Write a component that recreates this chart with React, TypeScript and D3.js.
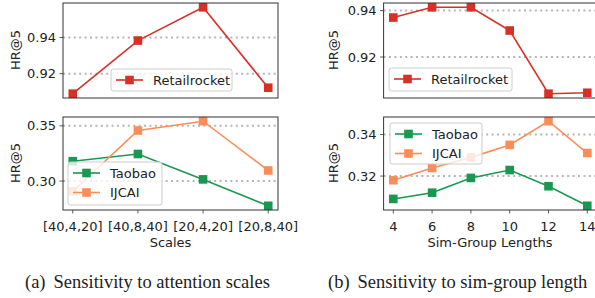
import React from "react";
import * as d3 from "d3";

// (a) attention scales
const scales = ["[40,4,20]", "[40,8,40]", "[20,4,20]", "[20,8,40]"];
const scaleRetail = [0.9089, 0.9383, 0.9567, 0.9122];
const scaleTaobao = [0.318, 0.3245, 0.3015, 0.2776];
const scaleIjcai = [0.2907, 0.3458, 0.3542, 0.3096];

// (b) sim-group lengths
const lengths = [4, 6, 8, 10, 12, 14];
const lenRetail = [0.937, 0.9414, 0.9414, 0.9314, 0.9042, 0.9046];
const lenTaobao = [0.309, 0.312, 0.3191, 0.3229, 0.3151, 0.3057];
const lenIjcai = [0.318, 0.3239, 0.329, 0.335, 0.3464, 0.3311];

const ticksATop = [0.92, 0.94];
const ticksABot = [0.3, 0.35];
const ticksBTop = [0.92, 0.94];
const ticksBBot = [0.32, 0.34];

const RED = "#d73027";
const GREEN = "#1a9850";
const ORANGE = "#fc8d59";
const FONT = "DejaVu Sans, sans-serif";
const FS = 13;

type Series = { name: string; color: string; values: number[] };

function padDomain(vals: number[]): [number, number] {
  const lo = d3.min(vals)!;
  const hi = d3.max(vals)!;
  const m = (hi - lo) * 0.05;
  return [lo - m, hi + m];
}

function Panel(props: {
  box: { x0: number; x1: number; y0: number; y1: number };
  xs: (string | number)[];
  series: Series[];
  yTicks: number[];
  fmt: string;
  showX: boolean;
  legend: { x: number; y: number; w: number; h: number };
}) {
  const { box, xs, series, yTicks, fmt, showX, legend } = props;
  const n = xs.length;
  const x = d3.scaleLinear().domain([-0.05 * (n - 1), (n - 1) * 1.05]).range([box.x0, box.x1]);
  const y = d3.scaleLinear().domain(padDomain(series.flatMap((s) => s.values))).range([box.y1, box.y0]);
  const line = d3.line<number>().x((_, i) => x(i)).y((v) => y(v));
  const f = d3.format(fmt);
  return (
    <g>
      {yTicks.map((t) => (
        <g key={t}>
          <line x1={box.x0} x2={box.x1} y1={y(t)} y2={y(t)} stroke="#b5b5b5" strokeWidth={2} strokeDasharray="2 3.4" />
          <line x1={box.x0 - 3.5} x2={box.x0} y1={y(t)} y2={y(t)} stroke="#333" strokeWidth={0.8} />
          <text x={box.x0 - 7} y={y(t)} dy="0.35em" textAnchor="end" fontSize={FS} fontFamily={FONT} fill="#222">
            {f(t)}
          </text>
        </g>
      ))}
      {showX &&
        xs.map((lab, i) => (
          <g key={i}>
            <line x1={x(i)} x2={x(i)} y1={box.y1} y2={box.y1 + 3.5} stroke="#333" strokeWidth={0.8} />
            <text x={x(i)} y={box.y1 + 20.5} textAnchor="middle" fontSize={FS} fontFamily={FONT} fill="#222">
              {lab}
            </text>
          </g>
        ))}
      {series.map((s) => (
        <g key={s.name}>
          <path d={line(s.values)!} fill="none" stroke={s.color} strokeWidth={1.6} />
          {s.values.map((v, i) => (
            <rect key={i} x={x(i) - 4.3} y={y(v) - 4.3} width={8.6} height={8.6} fill={s.color} />
          ))}
        </g>
      ))}
      <rect x={box.x0} y={box.y0} width={box.x1 - box.x0} height={box.y1 - box.y0} fill="none" stroke="#333" strokeWidth={1} />
      <rect x={legend.x} y={legend.y} width={legend.w} height={legend.h} rx={2.5} fill="white" fillOpacity={0.8} stroke="#cccccc" strokeWidth={1} />
      {series.map((s, i) => {
        const cy = legend.y + 11 + i * 19.5;
        return (
          <g key={s.name}>
            <line x1={legend.x + 5} x2={legend.x + 32} y1={cy} y2={cy} stroke={s.color} strokeWidth={1.6} />
            <rect x={legend.x + 18.5 - 4.3} y={cy - 4.3} width={8.6} height={8.6} fill={s.color} />
            <text x={legend.x + 42} y={cy} dy="0.35em" fontSize={FS} fontFamily={FONT} fill="#222">
              {s.name}
            </text>
          </g>
        );
      })}
    </g>
  );
}

export default function App() {
  const aTop = { x0: 63, x1: 278, y0: 3, y1: 98 };
  const aBot = { x0: 63, x1: 278, y0: 117, y1: 210 };
  const bTop = { x0: 383.6, x1: 597, y0: 3, y1: 98 };
  const bBot = { x0: 383.6, x1: 597, y0: 117, y1: 210 };
  const serif = "Liberation Serif, serif";
  return (
    <svg width={595} height={298} style={{ position: "absolute", left: 0, top: 0, background: "white" }}>
      <Panel box={aTop} xs={scales} series={[{ name: "Retailrocket", color: RED, values: scaleRetail }]}
        yTicks={ticksATop} fmt=".2f" showX={false} legend={{ x: 111, y: 69, w: 121, h: 22 }} />
      <Panel box={aBot} xs={scales}
        series={[{ name: "Taobao", color: GREEN, values: scaleTaobao }, { name: "IJCAI", color: ORANGE, values: scaleIjcai }]}
        yTicks={ticksABot} fmt=".2f" showX={true} legend={{ x: 68, y: 162, w: 94, h: 43 }} />
      <Panel box={bTop} xs={lengths} series={[{ name: "Retailrocket", color: RED, values: lenRetail }]}
        yTicks={ticksBTop} fmt=".2f" showX={false} legend={{ x: 389, y: 68, w: 123, h: 23 }} />
      <Panel box={bBot} xs={lengths}
        series={[{ name: "Taobao", color: GREEN, values: lenTaobao }, { name: "IJCAI", color: ORANGE, values: lenIjcai }]}
        yTicks={ticksBBot} fmt=".2f" showX={true} legend={{ x: 390, y: 123, w: 92, h: 41 }} />

      {[[15, 50], [15, 163], [333, 50], [333, 163]].map(([cx, cy], i) => (
        <text key={i} transform={`translate(${cx},${cy}) rotate(-90)`} dy="0.35em" textAnchor="middle" fontSize={FS} fontFamily={FONT} fill="#222">
          HR@5
        </text>
      ))}
      <text x={170.5} y={247} textAnchor="middle" fontSize={FS} fontFamily={FONT} fill="#222">Scales</text>
      <text x={490} y={247} textAnchor="middle" fontSize={FS} fontFamily={FONT} fill="#222">Sim-Group Lengths</text>
      <text x={25} y={288} fontSize={18.5} fontFamily={serif} fill="#222">
        <tspan>(a)</tspan>
        <tspan dx={8}>Sensitivity to attention scales</tspan>
      </text>
      <text x={328} y={288} fontSize={18.5} fontFamily={serif} fill="#222">
        <tspan>(b)</tspan>
        <tspan dx={8}>Sensitivity to sim-group length</tspan>
      </text>
    </svg>
  );
}
